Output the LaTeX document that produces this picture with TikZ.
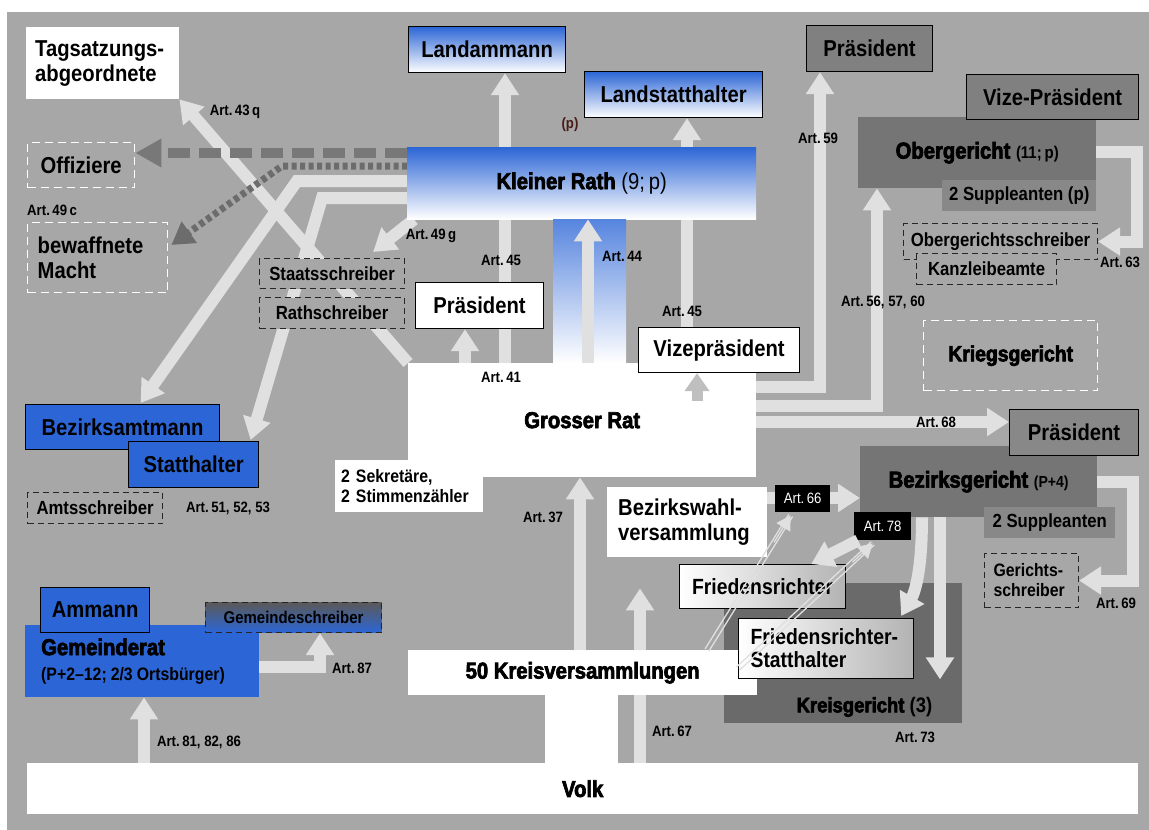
\documentclass[tikz,border=0pt]{standalone}
\usepackage{fontspec}
\setmainfont{Liberation Sans}[FakeStretch=0.88]
\newfontfamily\heavyfont{Liberation Sans}[FakeStretch=0.88,BoldFeatures={FakeBold=3}]
\usetikzlibrary{arrows.meta,calc}
\pgfdeclarelayer{back}
\pgfdeclarelayer{bg}
\pgfdeclarelayer{fore}
\pgfsetlayers{back,bg,main,fore}
\definecolor{bgc}{RGB}{167,167,167}
\definecolor{lightc}{RGB}{224,224,224}
\definecolor{kblue}{RGB}{44,102,214}
\definecolor{dashc}{RGB}{120,120,120}
\definecolor{grayA}{RGB}{128,128,128}
\definecolor{grayB}{RGB}{117,117,117}
\definecolor{grayC}{RGB}{136,136,136}
\definecolor{grayD}{RGB}{106,106,106}
\definecolor{pbrown}{RGB}{72,28,22}
\tikzset{
  wh/.style 2 args={minimum width=#1pt, minimum height=#2pt},
  bx/.style={anchor=north west, inner sep=0pt, align=center},
  lbx/.style={anchor=north west, inner ysep=0pt, align=left},
  fbig/.style={font=\fontsize{23}{25}\selectfont\bfseries},
  fmid/.style={font=\fontsize{19}{21}\selectfont\bfseries},
  fheavy/.style={font=\fontsize{23}{25}\selectfont\heavyfont\bfseries},
  artlbl/.style={font=\fontsize{15}{17}\selectfont\bfseries, inner sep=0pt},
  blackart/.style={anchor=north west, inner sep=0pt, fill=black, text=white, font=\fontsize{15}{17}\selectfont},
  framed/.style={draw=black, line width=1.2pt},
  dbox/.style={draw=black!85, line width=1.1pt, dash pattern=on 6pt off 4pt, fill=bgc},
  wdbox/.style={draw=white, line width=1.4pt, dash pattern=on 8pt off 5pt, fill=bgc},
  blueg/.style={top color=kblue, middle color=kblue!60!white, bottom color=white},
  grayg/.style={left color=white, right color=black!30},
  larrow/.style={draw=lightc, line width=12pt, -{Triangle[width=27pt,length=22pt]}},
  garrow/.style={draw=black!25, line width=11pt, -{Triangle[width=24pt,length=18pt]}},
  dasharrow/.style={draw=dashc, line width=10pt, dash pattern=on 22pt off 9pt, -{Triangle[width=27pt,length=26pt]}},
  dotarrow/.style={draw=dashc!90!black, line width=7pt, dash pattern=on 5pt off 3.5pt, -{Triangle[width=25pt,length=22pt]}},
  thinl/.style={draw=lightc, line width=1.3pt},
  thinhead/.style={draw=lightc, line width=1.3pt, -{Triangle[width=16pt,length=14pt]}},
}
\begin{document}
\begin{tikzpicture}[x=1pt,y=-1pt]
\useasboundingbox (0,0) rectangle (1149,830);
\begin{pgfonlayer}{back}
\fill[white] (0,0) rectangle (1149,830);
\fill[bgc] (7,12) rectangle (1149,830);
\end{pgfonlayer}

% helper coordinates
\coordinate (y153) at (0,153);
\coordinate (d1) at (282,166);
\coordinate (c1) at (297,181);
\coordinate (c2) at (322,198);
\coordinate (x144) at (144,0);
\coordinate (x465) at (465,0);
\coordinate (x505) at (505,0);
\coordinate (x545) at (545,0);
\coordinate (x580) at (580,0);
\coordinate (x588) at (588,0);
\coordinate (x618) at (618,0);
\coordinate (x640) at (640,0);
\coordinate (x687) at (687,0);
\coordinate (x697) at (697,0);
\coordinate (x707) at (707,0);
\coordinate (x922) at (922,0);
\coordinate (x940) at (940,0);
\coordinate (r1) at (820,387);
\coordinate (r2) at (877,406);
\coordinate (y422) at (0,422);
\coordinate (y498) at (0,498);
\coordinate (r63) at (1137,152);
\coordinate (r69) at (1133,482);
\coordinate (r87) at (320,667);

% ---------- nodes ----------
\node[lbx, fill=white, fbig, inner xsep=9pt, text width=135pt, minimum height=72pt] (TA) at (26,27) {Tagsatzungs-\\abgeordnete};
\node[bx, wdbox, fbig, wh={107}{45}] (Off) at (27,142) {Offiziere};
\node[lbx, wdbox, fbig, inner xsep=10pt, text width=120pt, minimum height=70pt] (BM) at (27,222) {bewaffnete\\Macht};

\node[bx, framed, blueg, fbig, wh={157}{46}] (LA) at (408,26) {Landammann};
\node[bx, framed, blueg, fbig, wh={178}{46}] (LS) at (584,71) {Landstatthalter};
\node[artlbl, text=pbrown] (pl) at (570,125) {(p)};
\node[bx, top color=kblue, middle color=kblue!80!white, bottom color=white, fbig, wh={349}{72}] (KR) at (407,147) {{\heavyfont Kleiner Rath} {\mdseries (9;\,p)}};
\node[bx, top color=kblue!80!white, middle color=white, bottom color=white, wh={73}{144}] (COL) at (553,219) {};

\node[bx, fill=white, fheavy, wh={348}{114}] (GR) at (408,363) {Grosser Rat};
\node[lbx, fill=white, font=\fontsize{18}{20}\selectfont\bfseries, inner xsep=6pt, text width=136pt, minimum height=52pt] (SK) at (335,460) {2 Sekretäre,\\2 Stimmenzähler};
\node[bx, framed, fill=white, fbig, wh={128}{46}] (PM) at (415,282) {Präsident};
\node[bx, framed, fill=white, fbig, wh={161}{45}] (VP) at (638,327) {Vizepräsident};
\node[bx, dbox, fmid, wh={145}{30}] (SS) at (259,258) {Staatsschreiber};
\node[bx, dbox, fmid, wh={145}{31}] (RS) at (259,297) {Rathschreiber};

\node[bx, framed, fill=grayA, fbig, wh={126}{46}] (PO) at (806,25) {Präsident};
\node[bx, fill=grayB, fbig, wh={238}{71}] (OG) at (858,117) {{\heavyfont Obergericht} {\fontsize{17}{20}\selectfont (11;\,p)}};
\node[bx, framed, fill=grayA, fbig, wh={172}{45}] (VZ) at (966,74) {Vize-Präsident};
\node[bx, fill=grayC, fmid, wh={154}{31}] (SP) at (942,180) {2 Suppleanten (p)};
\node[bx, dbox, fmid, wh={194}{36}] (OS) at (903,223) {Obergerichtsschreiber};
\node[bx, dbox, fmid, wh={140}{31}] (KB) at (916,253) {Kanzleibeamte};

\node[bx, wdbox, font=\fontsize{22}{24}\selectfont\heavyfont\bfseries, wh={174}{70}] (KRG) at (923,320) {Kriegsgericht};
\node[bx, fill=grayB, fbig, wh={237}{71}] (BG) at (860,446) {{\heavyfont Bezirksgericht} {\fontsize{16}{18}\selectfont (P+4)}};
\node[bx, framed, fill=grayC, fbig, wh={129}{46}] (PB) at (1009,409) {Präsident};
\node[bx, fill=grayC, fmid, wh={131}{31}] (SB) at (984,507) {2 Suppleanten};
\node[lbx, dbox, font=\fontsize{18}{20}\selectfont\bfseries, inner xsep=9pt, text width=76pt, minimum height=54pt] (GS) at (984,553) {Gerichts-\\schreiber};

\node[lbx, fill=white, fbig, inner xsep=11pt, text width=138pt, minimum height=70pt] (BW) at (607,487) {Bezirkswahl-\\versammlung};
\node[bx, fill=grayD, wh={238}{140},
  label={[font=\fontsize{21}{24}\selectfont\bfseries, anchor=base east, inner sep=0pt, xshift=-30pt, yshift=11pt]south east:{{\heavyfont Kreisgericht} (3)}}] (KG) at (724,583) {};
\node[bx, fill=white, fheavy, wh={349}{45}] (KV) at (408,650) {50 Kreisversammlungen};
\node[lbx, framed, grayg, font=\fontsize{22}{23}\selectfont\bfseries, inner xsep=12pt, text width=151pt, minimum height=60pt] (FS) at (738,618) {Friedensrichter-\\Statthalter};
\node[bx, framed, grayg, font=\fontsize{22}{24}\selectfont\bfseries, wh={166}{44}] (FR) at (679,564) {Friedensrichter};
\node[blackart, wh={55}{27}] (A66) at (775,485) {Art.\,66};
\node[blackart, wh={57}{28}] (A78) at (854,512) {Art.\,78};

\node[bx, fill=white, fheavy, wh={1111}{51}] (VO) at (27,763) {Volk};

\node[bx, framed, fill=kblue, fbig, wh={194}{45}] (BA) at (25,404) {Bezirksamtmann};
\node[bx, framed, fill=kblue, fbig, wh={130}{46}] (ST) at (128,441) {Statthalter};
\node[bx, dbox, fmid, wh={135}{31}] (AS) at (27,492) {Amtsschreiber};

\node[lbx, fill=kblue, fbig, inner xsep=16pt, text width=202pt, minimum height=72pt] (GE) at (25,625) {{\heavyfont Gemeinderat}\\{\fontsize{18}{20}\selectfont\frenchspacing (P+2–12;\hspace{4pt}2/3\hspace{4pt}Ortsbürger)}};
\node[bx, framed, fill=kblue, fbig, wh={109}{45}] (AM) at (40,587) {Ammann};
\node[bx, dbox, top color=black!65, bottom color=kblue, font=\fontsize{17}{19}\selectfont\bfseries, wh={176}{30}] (GSC) at (205,602) {Gemeindeschreiber};

% white stem Volk -- Kreisversammlungen
\fill[white] (KV.south -| x545) rectangle (VO.north -| x618);

% ---------- Art labels ----------
\node[artlbl] (l43) at (235,112) {Art.\,43\,q};
\node[artlbl, anchor=west] (l49c) at (27,210) {Art.\,49\,c};
\node[artlbl] (l49g) at (431,236) {Art.\,49\,g};
\node[artlbl] (l45a) at (501,260) {Art.\,45};
\node[artlbl] (l44) at (622,256) {Art.\,44};
\node[artlbl] (l41) at (501,377) {Art.\,41};
\node[artlbl] (l45b) at (682,311) {Art.\,45};
\node[artlbl] (l59) at (818,138) {Art.\,59};
\node[artlbl] (l63) at (1120,262) {Art.\,63};
\node[artlbl] (l56) at (883,302) {Art.\,56, 57, 60};
\node[artlbl] (l68) at (936,422) {Art.\,68};
\node[artlbl] (l51) at (228,508) {Art.\,51, 52, 53};
\node[artlbl] (l37) at (543,517) {Art.\,37};
\node[artlbl] (l87) at (352,668) {Art.\,87};
\node[artlbl] (l81) at (199,742) {Art.\,81, 82, 86};
\node[artlbl] (l67) at (672,731) {Art.\,67};
\node[artlbl] (l73) at (915,737) {Art.\,73};
\node[artlbl] (l69) at (1116,603) {Art.\,69};

% ---------- connectors behind boxes ----------
\coordinate (tBM) at ($(BM.north east)+(3,23)$);
\coordinate (tBA) at ($(BA.north)+(18,-1)$);
\coordinate (tST) at ($(ST.north)+(57,-1)$);
\coordinate (s49) at ($(KR.south west)+(7,0)$);
\coordinate (t49) at ($(SS.north east)+(-32,-6)$);
\coordinate (t67) at ($(BW.south)+(0,31)$);
\begin{pgfonlayer}{bg}
\draw[larrow] (GR.north west) -- (TA.south east);
\draw[larrow] (KR.west |- c1) -- (c1) -- (tBA);
\draw[larrow] (KR.west |- c2) -- (c2) -- (tST);
\draw[dasharrow] (KR.west |- y153) -- (Off.east |- y153);
\draw[dotarrow] (KR.west |- d1) -- (d1) -- (tBM);
\draw[larrow] (s49) -- (t49);
\draw[larrow] (GR.north -| x505) -- (LA.south -| x505);
\draw[larrow] (GR.north -| x465) -- (PM.south -| x465);
\draw[larrow] (GR.north -| x687) -- (LS.south -| x687);
\draw[larrow] (GR.east |- r1) -- (r1) -- (PO.south -| r1);
\draw[larrow] (GR.east |- r2) -- (r2) -- (OG.south -| r2);
\draw[larrow] (GR.east |- y422) -- (PB.west |- y422);
\draw[larrow] (OG.east |- r63) -- (r63) -- (r63 |- OS.east) -- (OS.east);
\draw[larrow] (BG.east |- r69) -- (r69) -- (r69 |- GS.east) -- (GS.east);
\draw[larrow] (KV.north -| x580) -- (GR.south -| x580);
\draw[larrow] (VO.north -| x640) -- (t67 -| x640);
\draw[larrow] (BW.east |- y498) -- (BG.west |- y498);
\draw[larrow] (GE.east |- r87) -- (r87) -- (r87 |- GSC.south);
\draw[larrow] (VO.north -| x144) -- (GE.south -| x144);
\end{pgfonlayer}

% ---------- connectors in front ----------
\coordinate (sV) at ($(VP.south -| x697)+(0,28)$);
\coordinate (s78) at ($(A78.south west)+(4,0)$);
\coordinate (t78) at ($(FR.north east)+(-35,0)$);
\coordinate (tFS) at ($(FS.north east)+(-13,-2)$);
\coordinate (t73) at ($(KG.south)+(0,-44)$);
\coordinate (d1s) at (KV.north -| x707);
\coordinate (d1e) at ($(A66.south)+(-12,3)$);
\coordinate (d2s) at ($(FS.west)+(0,20)$);
\coordinate (d2e) at ($(A78.south)+(-10,3)$);
\begin{pgfonlayer}{fore}
\draw[larrow] (GR.north -| x588) -- (KR.south -| x588);
\draw[garrow] (sV) -- (VP.south -| x697);
\draw[larrow] (s78) -- (t78);
\draw[larrow] (BG.south -| x940) -- (t73 -| x940);
\draw[larrow] (BG.south -| x922) .. controls (922,570) and (915,592) .. (tFS);
\draw[thinl] ($(d1s)!2.2pt!90:(d1e)$) -- ($(d1e)!2.2pt!-90:(d1s)$);
\draw[thinl] ($(d1s)!2.2pt!-90:(d1e)$) -- ($(d1e)!2.2pt!90:(d1s)$);
\draw[thinhead] ($(d1s)!0.8!(d1e)$) -- (d1e);
\draw[thinl] ($(d2s)!2.2pt!90:(d2e)$) -- ($(d2e)!2.2pt!-90:(d2s)$);
\draw[thinl] ($(d2s)!2.2pt!-90:(d2e)$) -- ($(d2e)!2.2pt!90:(d2s)$);
\draw[thinhead] ($(d2s)!0.85!(d2e)$) -- (d2e);
\end{pgfonlayer}
\end{tikzpicture}
\end{document}
